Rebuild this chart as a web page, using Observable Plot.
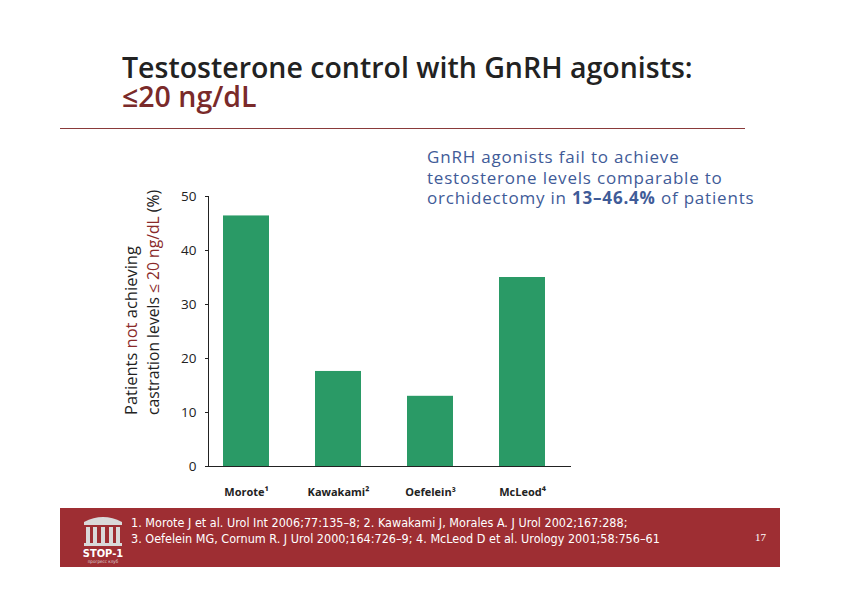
<!DOCTYPE html>
<html><head><meta charset="utf-8">
<script src="https://cdn.jsdelivr.net/npm/d3@7"></script>
<script src="https://cdn.jsdelivr.net/npm/@observablehq/plot@0.6"></script>
<style>
body{margin:0;background:#fff;}
#page{position:relative;width:842px;height:595px;overflow:hidden;background:#fff;font-family:"Open Sans",sans-serif;}
.abs{position:absolute;white-space:nowrap;}
.title{left:122px;font-size:28.5px;line-height:29px;font-weight:600;font-family:"Open Sans";}
#t1{top:53px;color:#222;}
#t2{top:82px;color:#7a2a2a;}
#rule{left:60px;top:128px;width:685px;height:1px;background:#8a3a3a;}
.call{left:427px;font-size:17px;line-height:20px;letter-spacing:0.8px;color:#3f5b98;font-family:"Open Sans";}
#c1{top:147px;}#c2{top:167.5px;}#c3{top:188px;}
#foot{left:60px;top:508px;width:720px;height:59px;background:#9e2e33;}
.ref{left:131px;font-size:12.5px;line-height:15px;color:#fff;font-family:"Liberation Sans Narrow","DejaVu Sans Condensed";}
#r1{top:515px;}#r2{top:531px;}
#pg{left:755px;top:531px;font-size:11px;line-height:13px;color:#fff;font-family:"Liberation Sans Narrow";}
#logo{left:78px;top:512px;}
#chart{left:0;top:0;}
</style></head>
<body><div id="page">
<div class="abs title" id="t1">Testosterone control with GnRH agonists:</div>
<div class="abs title" id="t2">≤20 ng/dL</div>
<div class="abs" id="rule"></div>
<div class="abs call" id="c1">GnRH agonists fail to achieve</div>
<div class="abs call" id="c2">testosterone levels comparable to</div>
<div class="abs call" id="c3">orchidectomy in <b>13–46.4%</b> of patients</div>
<div class="abs" id="foot"></div>
<svg class="abs" id="logo" width="50" height="52" viewBox="0 0 50 52">
<path d="M6 10 Q25 0 44 10 Z" fill="#d9d9d9"/>
<rect x="6" y="10" width="38" height="3" fill="#d9d9d9"/>
<rect x="8" y="15" width="4" height="16" fill="#d9d9d9"/><rect x="15" y="15" width="4" height="16" fill="#d9d9d9"/>
<rect x="23" y="15" width="4" height="16" fill="#d9d9d9"/><rect x="31" y="15" width="4" height="16" fill="#d9d9d9"/>
<rect x="38" y="15" width="4" height="16" fill="#d9d9d9"/>
<rect x="6" y="31" width="38" height="3" fill="#d9d9d9"/>
<text x="25" y="45" text-anchor="middle" font-family="DejaVu Sans Condensed" font-weight="bold" font-size="11" fill="#fff">STOP-1</text>
<text x="25" y="51" text-anchor="middle" font-family="DejaVu Sans Condensed" font-size="4.5" fill="#ddd">прогресс клуб</text>
</svg>
<div class="abs ref" id="r1">1. Morote J et al. Urol Int 2006;77:135–8; 2. Kawakami J, Morales A. J Urol 2002;167:288;</div>
<div class="abs ref" id="r2">3. Oefelein MG, Cornum R. J Urol 2000;164:726–9; 4. McLeod D et al. Urology 2001;58:756–61</div>
<div class="abs" id="pg">17</div>
<div class="abs" id="chart"></div>
</div>
<script>
const studies = ["Morote¹", "Kawakami²", "Oefelein³", "McLeod⁴"];
const percentNotAchieving = [46.4, 17.6, 13.0, 35.0];
const yTicks = [0, 10, 20, 30, 40, 50];

const data = studies.map((s, i) => ({study: s, value: percentNotAchieving[i]}));

const chart = Plot.plot({
  width: 842, height: 595,
  marginLeft: 208, marginRight: 272, marginTop: 196, marginBottom: 129,
  style: {background: "transparent", fontFamily: "Open Sans", color: "#222"},
  x: {domain: studies, paddingInner: 0.5, paddingOuter: 0.217, align: 0.375, label: null},
  y: {domain: [0, 50], label: null},
  marks: [
    Plot.barY(data, {x: "study", y: "value", fill: "#2a9a66"}),
    Plot.frame({anchor: "left", stroke: "#222"}),
    Plot.frame({anchor: "bottom", stroke: "#222"}),
    Plot.axisY({ticks: yTicks, tickSize: 3, tickPadding: 9, fontSize: 13.5, label: null, stroke: "#222"}),
    Plot.axisX({tickSize: 0, tickPadding: 22, fontSize: 11, fontWeight: "bold", label: null})
  ]
});
document.getElementById("chart").appendChild(chart);

const svg = d3.select(chart);
const lab = svg.append("g").attr("font-family", "Open Sans").attr("fill", "#222").attr("text-anchor", "start");
const l1 = lab.append("text").attr("font-size", 16.5).attr("text-anchor", "start").attr("transform", "translate(137,415) rotate(-90)");
l1.append("tspan").text("Patients ");
l1.append("tspan").attr("fill", "#8a2a2a").text("not");
l1.append("tspan").text(" achieving");
const l2 = lab.append("text").attr("font-size", 15.7).attr("text-anchor", "start").attr("transform", "translate(159,415) rotate(-90)");
l2.append("tspan").text("castration levels ");
l2.append("tspan").attr("fill", "#8a2a2a").text("≤ 20 ng/dL");
l2.append("tspan").text(" (%)");
</script>
</body></html>
